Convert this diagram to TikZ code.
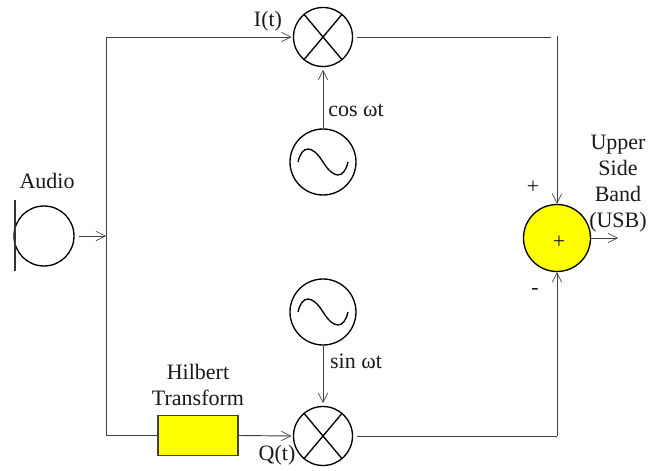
\documentclass[tikz,border=0pt]{standalone}
\usepackage{fontspec}
\setmainfont{Liberation Serif}
\usetikzlibrary{arrows.meta}
\definecolor{sigyellow}{RGB}{255,255,0}
\tikzset{
  x=0.75pt,y=-0.75pt,
  wire/.style={draw=black!75,line width=0.7pt},
  arrowwire/.style={wire,-{Straight Barb[length=7pt,width=7pt,line width=0.5pt]}},
  ringnode/.style={circle,draw=black,line width=1pt,inner sep=0pt,minimum size=#1*0.75pt},
  lbl/.style={inner sep=0pt,font=\fontsize{16.5pt}{19.5pt}\selectfont,align=center,text=black!90},
}
\begin{document}
\begin{tikzpicture}
\useasboundingbox[fill=white] (0,0) rectangle (650,471);
% nodes
\node[ringnode=59] (mixI) at (323,37) {};
\node[ringnode=59] (mixQ) at (323,436) {};
\node[ringnode=66] (oscC) at (323,162) {};
\node[ringnode=66] (oscS) at (323,312) {};
\node[ringnode=60] (mic) at (44,236) {};
\node[ringnode=67,fill=sigyellow] (sum) at (557,238) {};
\node[draw=black!75,line width=0.9pt,fill=sigyellow,minimum width=60pt,minimum height=29.5pt,inner sep=0pt] (hil) at (198,435.5) {};
\coordinate (barT) at (15,200);
\coordinate (barB) at (15,271);
\coordinate (tap) at (106,236);
\coordinate (tl) at (106,37);
\coordinate (bl) at (106,435.5);
\coordinate (tre) at (551,37);
\coordinate (tr) at (557,36);
\coordinate (br) at (557,436);
\coordinate (out) at (618,238);
% mixer crosses
\foreach \m in {mixI,mixQ}{
  \draw[line width=1pt] (\m.50) -- (\m.230);
  \draw[line width=1pt] (\m.130) -- (\m.310);
}
% sine glyphs
\foreach \m in {oscC,oscS}{
  \draw[line width=1pt] ([xshift=-18.75pt]\m.center) .. controls +(3pt,13pt) and +(-8pt,13pt) .. (\m.center)
     .. controls +(8pt,-13pt) and +(-3pt,-13pt) .. ([xshift=18.75pt]\m.center);
}
% mic bar
\draw[line width=1pt,draw=black!80] (barT) -- (barB);
% connectors
\draw[arrowwire] ([xshift=3pt]mic.east) -- (tap);
\draw[wire] (bl) -- (tl);
\draw[arrowwire] (tl) -- ([xshift=-1pt]mixI.west);
\draw[wire] (bl) -- (hil.west);
\draw[arrowwire] (hil.east) -- ([xshift=-1pt]mixQ.west);
\draw[wire] ([xshift=3pt]mixI.east) -- (tre);
\draw[arrowwire] (tr) -- (sum.north);
\draw[wire] ([xshift=3pt]mixQ.east) -- (br);
\draw[arrowwire] (br) -- (sum.south);
\draw[arrowwire] (sum.east) -- (out);
\draw[arrowwire] (oscC.north) -- ([yshift=-2pt]mixI.south);
\draw[arrowwire] (oscS.south) -- ([yshift=2pt]mixQ.north);
% labels
\node[lbl] (lA) at (47,181) {Audio};
\node[lbl] (lI) at (268,21) {I(t)};
\node[lbl] (lC) at (356,110) {cos ωt};
\node[lbl] (lS) at (356,361) {sin ωt};
\node[lbl] (lH) at (198,385) {Hilbert\\Transform};
\node[lbl] (lQ) at (277,455) {Q(t)};
\node[lbl] (lU) at (618,184) {Upper\\Side\\Band\\(USB)};
\node[lbl] (lp) at (533,187) {+};
\node[lbl] (lm) at (535,291) {-};
\node[lbl] (lc) at (559,242) {+};
\end{tikzpicture}
\end{document}
